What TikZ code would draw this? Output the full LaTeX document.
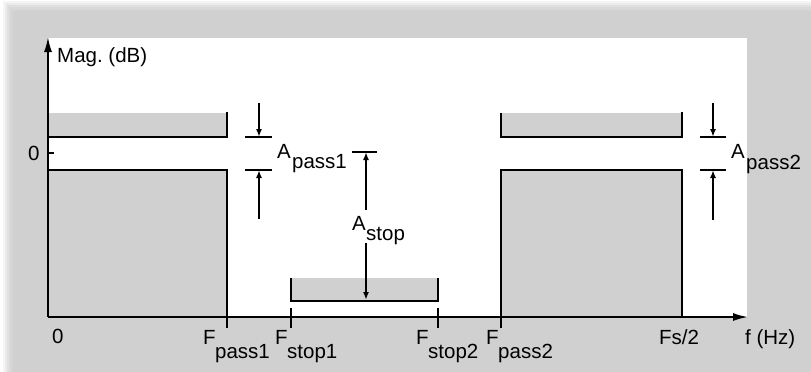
\documentclass[tikz,border=0pt]{standalone}
\usepackage{fontspec}
\setmainfont{Liberation Sans}
\usetikzlibrary{arrows.meta}
\definecolor{bg}{RGB}{208,208,208}
\definecolor{boxgray}{RGB}{208,208,208}
\tikzset{
  ln/.style={line width=1.8pt, line cap=butt},
  dimarrow/.style={ln, -{Latex[length=8pt,width=6pt]}},
  axisarrow/.style={line width=1.8pt, -{Latex[length=15pt,width=8pt]}},
  lbl/.style={anchor=base west, inner sep=0pt, font=\fontsize{20.5}{20.5}\selectfont},
}
\begin{document}
\begin{tikzpicture}[x=1pt,y=-1pt]
\useasboundingbox (0,0) rectangle (811,372);
\fill[white] (0,0) rectangle (811,372);
% soft shadow edge of the gray background
\foreach \o/\c in {3/96,5/92,7/88,9/85,11/83,13/82}{
  \fill[white!\c!black] (\o,\o-2) rectangle (811,372);
}
\fill[bg] (14,12) rectangle (811,372);
% white plotting panel
\fill[white] (48,38) rectangle (747,317);

% passband 1
\fill[boxgray] (49,113) rectangle (227,137);
\draw[ln] (48,137) -- (227,137) -- (227,112);
\fill[boxgray] (48,170) rectangle (227,317);
\draw[ln] (48,170) -- (227,170) -- (227,328);

% stopband
\fill[boxgray] (291,278) rectangle (438,301);
\draw[ln] (291,278) -- (291,301) -- (438,301) -- (438,278);
\draw[ln] (291,308) -- (291,328);
\draw[ln] (438,308) -- (438,328);

% passband 2
\fill[boxgray] (501,113) rectangle (682,137);
\draw[ln] (501,113) -- (501,137) -- (682,137) -- (682,112);
\fill[boxgray] (501,170) rectangle (682,317);
\draw[ln] (501,328) -- (501,170) -- (682,170) -- (682,317);

% axes
\coordinate (O) at (48,317);
\coordinate (ytop) at (48,37);
\coordinate (xend) at (748,317);
\draw[axisarrow] (O) -- (ytop);
\draw[axisarrow] (O) -- (xend);
\draw[ln] (48,153) -- (54,153);

% A_pass1
\coordinate (p1a) at (259,103); \coordinate (p1b) at (259,137);
\coordinate (p1c) at (259,219); \coordinate (p1d) at (259,170);
\draw[dimarrow] (p1a) -- (p1b);
\draw[ln] (245,137) -- (272,137);
\draw[ln] (245,170) -- (272,170);
\draw[dimarrow] (p1c) -- (p1d);

% A_stop
\coordinate (s1) at (366,210); \coordinate (s2) at (366,152);
\coordinate (s3) at (366,243); \coordinate (s4) at (366,300);
\draw[ln] (352,152) -- (377,152);
\draw[dimarrow] (s1) -- (s2);
\draw[dimarrow] (s3) -- (s4);

% A_pass2
\coordinate (p2a) at (713,103); \coordinate (p2b) at (713,137);
\coordinate (p2c) at (713,220); \coordinate (p2d) at (713,170);
\draw[dimarrow] (p2a) -- (p2b);
\draw[ln] (700,137) -- (726,137);
\draw[ln] (700,170) -- (726,170);
\draw[dimarrow] (p2c) -- (p2d);

% labels
\node[lbl] (mag) at (57,62) {Mag.\ (dB)};
\node[lbl] (yzero) at (28,160) {0};
\node[lbl] (xzero) at (52,343) {0};
\node[lbl] (fp1) at (203,344) {F};
\node[lbl] (fp1s) at (215,358) {pass1};
\node[lbl] (fs1) at (275,344) {F};
\node[lbl] (fs1s) at (287,358) {stop1};
\node[lbl] (fs2) at (416,344) {F};
\node[lbl] (fs2s) at (428,358) {stop2};
\node[lbl] (fp2) at (486,344) {F};
\node[lbl] (fp2s) at (498,358) {pass2};
\node[lbl] (fsh) at (659,344) {Fs/2};
\node[lbl] (fhz) at (745,344) {f (Hz)};
\node[lbl] (ap1) at (277,158) {A};
\node[lbl] (ap1s) at (292,168) {pass1};
\node[lbl] (ast) at (352,230) {A};
\node[lbl] (asts) at (366,240) {stop};
\node[lbl] (ap2) at (731,158) {A};
\node[lbl] (ap2s) at (746,169) {pass2};
\end{tikzpicture}
\end{document}
